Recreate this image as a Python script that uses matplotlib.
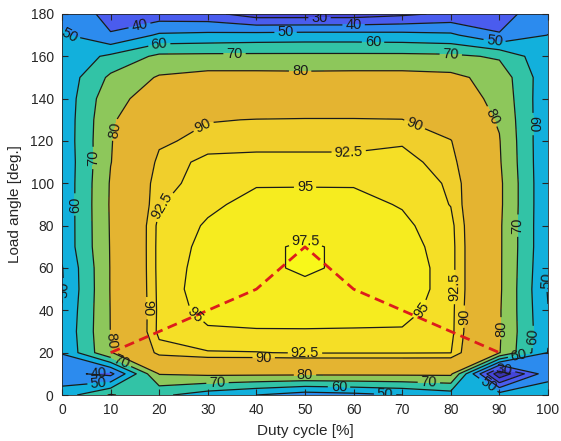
import matplotlib
matplotlib.use("Agg")
import matplotlib.pyplot as plt
import numpy as np

plt.rcParams['font.family'] = ['Liberation Sans', 'DejaVu Sans']

# measurement grid: duty cycle [%] x load angle [deg.]
duty = [0, 10, 20, 30, 40, 50, 60, 70, 80, 90, 100]
angle = [0, 10, 20, 30, 40, 50, 60, 70, 80, 90, 100, 110, 120, 130, 140, 150, 160, 170, 180]

# efficiency [%], one row per load angle (0 .. 180)
eff = [
    [55.0, 71.0, 62.0, 55.0, 50.0, 45.0, 47.0, 50.0, 55.0, 55.0, 55.0],
    [43.0, 37.0, 80.5, 82.0, 82.0, 82.0, 82.0, 82.0, 82.0, 12.0, 47.0],
    [50.5, 79.5, 91.2, 92.3, 92.4, 92.7, 92.7, 92.7, 92.6, 80.5, 49.7],
    [51.5, 80.2, 93.3, 94.6, 94.8, 94.85, 94.8, 94.7, 93.3, 81.0, 51.0],
    [50.5, 80.3, 93.2, 96.0, 96.2, 96.0, 96.0, 96.1, 93.4, 81.0, 50.3],
    [49.0, 80.5, 93.3, 96.6, 96.6, 96.75, 96.6, 97.0, 93.5, 81.5, 49.3],
    [49.5, 80.5, 93.4, 96.2, 96.75, 98.0, 96.75, 97.0, 93.5, 81.5, 50.2],
    [52.5, 80.6, 93.4, 95.8, 96.9, 97.9, 96.9, 96.3, 93.5, 81.5, 51.0],
    [52.5, 80.8, 93.3, 95.3, 96.6, 96.5, 96.6, 95.6, 93.3, 81.5, 51.0],
    [52.5, 81.0, 92.3, 94.5, 95.8, 95.9, 95.8, 94.8, 92.4, 82.0, 51.0],
    [52.5, 80.8, 92.0, 93.1, 94.8, 94.8, 94.8, 93.8, 92.2, 82.0, 51.0],
    [52.5, 79.8, 91.0, 93.3, 93.6, 93.6, 93.6, 93.4, 91.3, 81.0, 51.0],
    [53.0, 79.6, 89.3, 91.2, 91.3, 91.3, 91.3, 92.2, 90.2, 80.45, 51.0],
    [53.0, 79.0, 87.0, 89.8, 90.1, 90.2, 90.2, 90.1, 87.0, 79.2, 51.5],
    [53.0, 77.0, 84.5, 86.5, 87.0, 87.0, 87.0, 86.5, 85.0, 77.6, 52.0],
    [53.0, 72.0, 81.0, 83.5, 83.5, 83.2, 83.5, 83.5, 82.5, 76.0, 53.0],
    [53.0, 62.0, 72.2, 72.5, 72.5, 72.5, 72.5, 72.5, 72.0, 68.7, 52.0],
    [51.5, 40.6, 51.5, 52.5, 53.5, 54.0, 54.0, 53.5, 52.0, 40.5, 50.2],
    [47.0, 37.0, 34.0, 33.0, 25.0, 25.0, 25.0, 28.0, 32.0, 37.0, 45.0],
]

# load angle of maximum efficiency for each duty cycle
opt_duty = [10, 20, 30, 40, 50, 60, 70, 80, 90]
opt_angle = [20, 30, 40, 50, 70, 50, 40, 30, 20]

levels = [0, 10, 20, 30, 40, 50, 60, 70, 80, 90, 92.5, 95, 97.5, 100]
fill_colors = ['#352a87', '#3a33b0', '#4545d8', '#4a5cee', '#2c8bee', '#12b0dc',
               '#32c3a6', '#8dc75b', '#e4b431', '#f0cf2c', '#f5df26', '#f6ec1f', '#f8f81a']

X, Y = np.meshgrid(duty, angle)
Z = np.array(eff)

fig = plt.figure(figsize=(5.61, 4.41), dpi=100)
ax = fig.add_axes([0.1105, 0.1043, 0.8663, 0.864])

ax.contourf(X, Y, Z, levels=levels, colors=fill_colors)
cs = ax.contour(X, Y, Z, levels=levels[2:-1], colors='#1a1a1a', linewidths=0.9)

label_pos = [
    (53, 178), (16, 174), (60, 175), (1.5, 170), (46, 172), (89, 167),
    (20, 166), (64, 167.5), (96.5, 128), (3, 90), (96.5, 27.5), (57, 4), (87, 2.5),
    (35.5, 161.5), (80, 161.5), (7, 112), (93.5, 80), (32, 5.5), (75.5, 6.3), (12.3, 16.5),
    (49, 153), (88, 131), (11.5, 125), (50, 8.8), (11.6, 26), (89.5, 31.5),
    (29, 127.5), (72.5, 127.5), (17.5, 41), (83, 37), (41.5, 17),
    (59, 115), (21.5, 87), (81, 51), (50, 20.5),
    (50, 95), (27, 37), (74.7, 38.5), (50, 72),
    (0.3, 50), (99.7, 54), (66.5, 1.6), (7.5, 6.3), (94, 19), (7.5, 11.8), (91, 11.8),
]
ax.clabel(cs, manual=label_pos, inline=True, inline_spacing=3, fontsize=10.5,
          fmt=lambda v: f"{v:g}")

ax.plot(opt_duty, opt_angle, color='#dd1c1c', linestyle='--', linewidth=2, dashes=(3.6, 2))

ax.set_xlim(0, 100)
ax.set_ylim(0, 180)
ax.set_xticks(duty)
ax.set_yticks([0, 20, 40, 60, 80, 100, 120, 140, 160, 180])
ax.tick_params(direction='in', top=True, right=True, labelsize=10, colors='#262626',
               length=4, pad=6)
for s in ax.spines.values():
    s.set_color('#262626')
    s.set_linewidth(0.6)
ax.set_xlabel("Duty cycle [%]", fontsize=11, color='#262626', labelpad=5)
ax.set_ylabel("Load angle [deg.]", fontsize=11, color='#262626', labelpad=6)

fig.savefig("out.png", dpi=100)
